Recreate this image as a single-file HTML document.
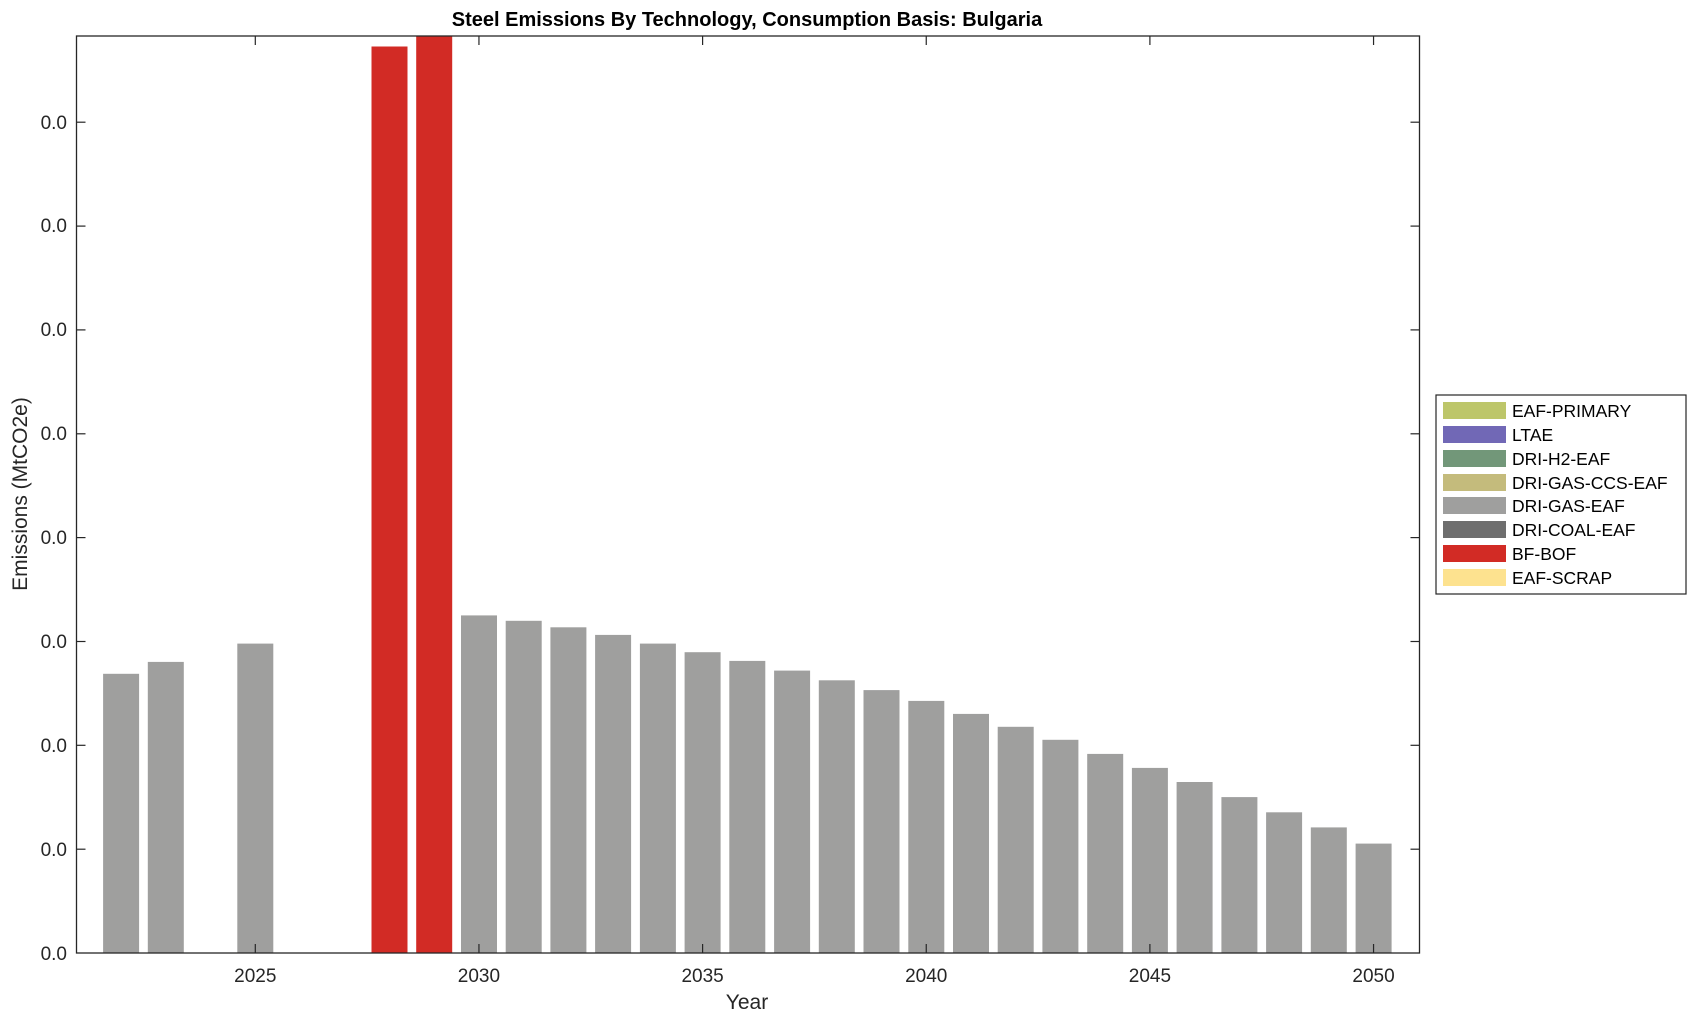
<!DOCTYPE html>
<html><head><meta charset="utf-8"><style>
html,body{margin:0;padding:0;background:#fff;}
svg{display:block;font-family:"Liberation Sans",Arial,sans-serif;}
</style></head><body>
<svg width="1696" height="1021" viewBox="0 0 1696 1021" xmlns="http://www.w3.org/2000/svg">
<g fill="#9f9f9e">
<rect x="103.1" y="673.8" width="36" height="279.2"/>
<rect x="147.8" y="661.9" width="36" height="291.1"/>
<rect x="237.3" y="643.6" width="36" height="309.4"/>
<rect x="461.0" y="615.4" width="36" height="337.6"/>
<rect x="505.7" y="620.8" width="36" height="332.2"/>
<rect x="550.4" y="627.3" width="36" height="325.7"/>
<rect x="595.1" y="634.9" width="36" height="318.1"/>
<rect x="639.9" y="643.6" width="36" height="309.4"/>
<rect x="684.6" y="652.2" width="36" height="300.8"/>
<rect x="729.3" y="660.9" width="36" height="292.1"/>
<rect x="774.1" y="670.6" width="36" height="282.4"/>
<rect x="818.8" y="680.3" width="36" height="272.7"/>
<rect x="863.5" y="690.1" width="36" height="262.9"/>
<rect x="908.3" y="700.9" width="36" height="252.1"/>
<rect x="953.0" y="713.9" width="36" height="239.1"/>
<rect x="997.7" y="726.8" width="36" height="226.2"/>
<rect x="1042.4" y="739.8" width="36" height="213.2"/>
<rect x="1087.2" y="753.9" width="36" height="199.1"/>
<rect x="1131.9" y="767.9" width="36" height="185.1"/>
<rect x="1176.6" y="782.0" width="36" height="171.0"/>
<rect x="1221.4" y="797.1" width="36" height="155.9"/>
<rect x="1266.1" y="812.3" width="36" height="140.7"/>
<rect x="1310.8" y="827.4" width="36" height="125.6"/>
<rect x="1355.6" y="843.6" width="36" height="109.4"/>
</g>
<g fill="#d22b25">
<rect x="371.5" y="46.5" width="36" height="906.5"/>
<rect x="416.2" y="36" width="36" height="917"/>
</g>
<rect x="76.5" y="36" width="1343" height="917" fill="none" stroke="#262626" stroke-width="1.3"/>
<g stroke="#262626" stroke-width="1.2">
<line x1="255.3" y1="953" x2="255.3" y2="944"/><line x1="255.3" y1="36" x2="255.3" y2="45"/>
<line x1="478.95" y1="953" x2="478.95" y2="944"/><line x1="478.95" y1="36" x2="478.95" y2="45"/>
<line x1="702.6" y1="953" x2="702.6" y2="944"/><line x1="702.6" y1="36" x2="702.6" y2="45"/>
<line x1="926.25" y1="953" x2="926.25" y2="944"/><line x1="926.25" y1="36" x2="926.25" y2="45"/>
<line x1="1149.9" y1="953" x2="1149.9" y2="944"/><line x1="1149.9" y1="36" x2="1149.9" y2="45"/>
<line x1="1373.55" y1="953" x2="1373.55" y2="944"/><line x1="1373.55" y1="36" x2="1373.55" y2="45"/>
<line x1="76.5" y1="849.2" x2="85.5" y2="849.2"/><line x1="1419.5" y1="849.2" x2="1410.5" y2="849.2"/>
<line x1="76.5" y1="745.3" x2="85.5" y2="745.3"/><line x1="1419.5" y1="745.3" x2="1410.5" y2="745.3"/>
<line x1="76.5" y1="641.5" x2="85.5" y2="641.5"/><line x1="1419.5" y1="641.5" x2="1410.5" y2="641.5"/>
<line x1="76.5" y1="537.6" x2="85.5" y2="537.6"/><line x1="1419.5" y1="537.6" x2="1410.5" y2="537.6"/>
<line x1="76.5" y1="433.8" x2="85.5" y2="433.8"/><line x1="1419.5" y1="433.8" x2="1410.5" y2="433.8"/>
<line x1="76.5" y1="329.9" x2="85.5" y2="329.9"/><line x1="1419.5" y1="329.9" x2="1410.5" y2="329.9"/>
<line x1="76.5" y1="226.1" x2="85.5" y2="226.1"/><line x1="1419.5" y1="226.1" x2="1410.5" y2="226.1"/>
<line x1="76.5" y1="122.2" x2="85.5" y2="122.2"/><line x1="1419.5" y1="122.2" x2="1410.5" y2="122.2"/>
</g>
<g font-size="19" fill="#262626" text-anchor="end">
<text x="67" y="960">0.0</text><text x="67" y="856">0.0</text><text x="67" y="752">0.0</text><text x="67" y="648">0.0</text>
<text x="67" y="544">0.0</text><text x="67" y="440">0.0</text><text x="67" y="336">0.0</text><text x="67" y="232">0.0</text><text x="67" y="129">0.0</text>
</g>
<g font-size="19" fill="#262626" text-anchor="middle">
<text x="255.3" y="982">2025</text><text x="478.95" y="982">2030</text><text x="702.6" y="982">2035</text>
<text x="926.25" y="982">2040</text><text x="1149.9" y="982">2045</text><text x="1373.55" y="982">2050</text>
<text x="747" y="1009" font-size="21">Year</text>
<text x="747" y="26" font-size="20" font-weight="bold" fill="#000">Steel Emissions By Technology, Consumption Basis: Bulgaria</text>
<text transform="translate(27,494) rotate(-90)" font-size="21">Emissions (MtCO2e)</text>
</g>
<rect x="1436" y="395" width="250" height="199" fill="#fff" stroke="#262626" stroke-width="1.2"/>
<g font-size="17.5" fill="#000">
<rect x="1443" y="402" width="63" height="17" fill="#bdc66a"/><text x="1512" y="417">EAF-PRIMARY</text>
<rect x="1443" y="426" width="63" height="17" fill="#7168b6"/><text x="1512" y="441">LTAE</text>
<rect x="1443" y="450" width="63" height="17" fill="#729779"/><text x="1512" y="465">DRI-H2-EAF</text>
<rect x="1443" y="474" width="63" height="17" fill="#c4bb7c"/><text x="1512" y="489">DRI-GAS-CCS-EAF</text>
<rect x="1443" y="497" width="63" height="17" fill="#9f9f9e"/><text x="1512" y="512">DRI-GAS-EAF</text>
<rect x="1443" y="521" width="63" height="17" fill="#6e6e6e"/><text x="1512" y="536">DRI-COAL-EAF</text>
<rect x="1443" y="545" width="63" height="17" fill="#d22b25"/><text x="1512" y="560">BF-BOF</text>
<rect x="1443" y="569" width="63" height="17" fill="#fde28f"/><text x="1512" y="584">EAF-SCRAP</text>
</g>
</svg>
</body></html>
